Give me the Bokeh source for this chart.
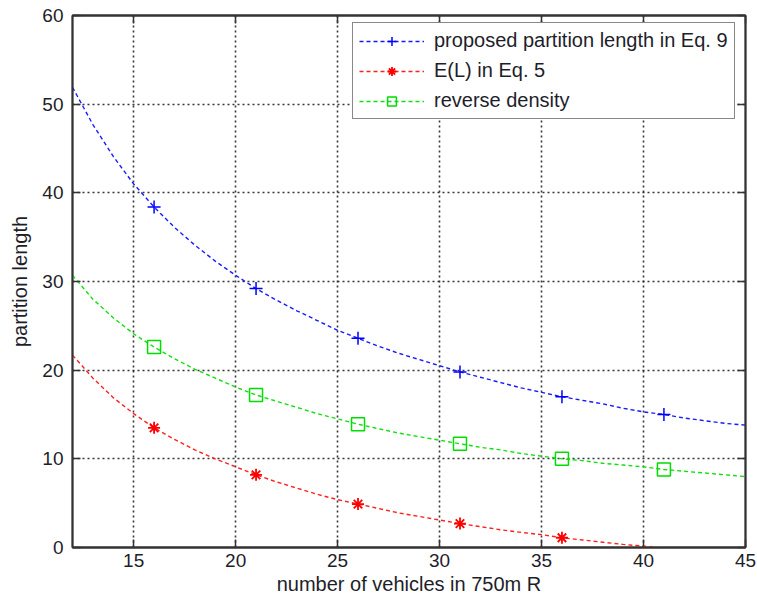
from bokeh.plotting import figure
from bokeh.models import (LinearAxis, Range1d, Legend, LegendItem,
                          CustomJSTickFormatter, FixedTicker)
from bokeh.embed import file_html
from bokeh.resources import INLINE

# ---- data ----
x_vals = list(range(12, 46))
proposed = [51.9, 47.7, 44.1, 41.0, 38.4, 36.1, 34.1, 32.3, 30.7, 29.2,
            27.9, 26.7, 25.6, 24.5, 23.6, 22.7, 21.9, 21.2, 20.5, 19.8,
            19.2, 18.6, 18.0, 17.5, 17.0, 16.6, 16.2, 15.7, 15.3, 15.0,
            14.6, 14.3, 14.0, 13.8]
expected_L = [21.7, 19.1, 16.9, 15.1, 13.5, 12.2, 11.0, 10.0, 9.1, 8.2,
              7.4, 6.7, 6.0, 5.4, 4.9, 4.4, 3.9, 3.5, 3.1, 2.7,
              2.35, 2.0, 1.7, 1.45, 1.1, 0.85, 0.6, 0.35, 0.15, -0.1,
              -0.3, -0.5, -0.7, -0.9]
reverse_density = [30.7, 28.0, 25.9, 24.1, 22.6, 21.3, 20.1, 19.1, 18.1, 17.2,
                   16.5, 15.8, 15.1, 14.5, 13.9, 13.4, 12.9, 12.5, 12.1, 11.7,
                   11.3, 11.0, 10.6, 10.3, 10.0, 9.8, 9.5, 9.3, 9.1, 8.8,
                   8.6, 8.4, 8.2, 8.0]
marker_x = [16, 21, 26, 31, 36, 41]
x_ticks = [15, 20, 25, 30, 35, 40, 45]
y_ticks = [0, 10, 20, 30, 40, 50, 60]
labels = ["proposed partition length in Eq. 9", "E(L) in Eq. 5", "reverse density"]
x_label = "number of vehicles in 750m R"
y_label = "partition length"
Y_MIN, Y_MAX = 0, 60


def marks(series):
    # like MATLAB, markers whose point lies outside the axes are not drawn
    pts = [(m, series[x_vals.index(m)]) for m in marker_x]
    pts = [(m, v) for m, v in pts if Y_MIN <= v <= Y_MAX]
    return [m for m, _ in pts], [v for _, v in pts]


FONT = "Liberation Sans"
TXT = "#1e1e2a"
AX = "#333333"

p = figure(width=757, height=606, x_range=Range1d(12, 45), y_range=Range1d(Y_MIN, Y_MAX),
           output_backend="svg", toolbar_location=None,
           min_border_left=72, min_border_right=12, min_border_top=15,
           min_border_bottom=59, background_fill_color="white",
           border_fill_color="white")
p.outline_line_color = AX
p.outline_line_width = 1.8

for ax in p.xaxis:
    ax.ticker = FixedTicker(ticks=x_ticks)
for ax in p.yaxis:
    ax.ticker = FixedTicker(ticks=y_ticks)


def style_axis(ax):
    ax.axis_line_color = AX
    ax.axis_line_width = 1.8
    ax.major_tick_in = 8
    ax.major_tick_out = 0
    ax.major_tick_line_color = AX
    ax.major_tick_line_width = 1.5
    ax.minor_tick_line_color = None
    ax.major_label_text_font = FONT
    ax.major_label_text_font_size = "19px"
    ax.major_label_text_color = TXT
    ax.axis_label_text_font = FONT
    ax.axis_label_text_font_size = "20px"
    ax.axis_label_text_font_style = "normal"
    ax.axis_label_text_color = TXT


style_axis(p.xaxis[0])
style_axis(p.yaxis[0])
p.xaxis[0].axis_label = x_label
p.yaxis[0].axis_label = y_label
p.xaxis[0].major_label_standoff = 6
p.xaxis[0].axis_label_standoff = 3
p.yaxis[0].major_label_standoff = 9
p.yaxis[0].axis_label_standoff = 8

top = LinearAxis(ticker=FixedTicker(ticks=x_ticks),
                 formatter=CustomJSTickFormatter(code="return ''"))
right = LinearAxis(ticker=FixedTicker(ticks=y_ticks),
                   formatter=CustomJSTickFormatter(code="return ''"))
for ax in (top, right):
    style_axis(ax)
    ax.major_label_standoff = 0
p.add_layout(top, "above")
p.add_layout(right, "right")

for g in (p.xgrid[0], p.ygrid[0]):
    g.grid_line_color = "#222222"
    g.grid_line_dash = "2 3"
    g.grid_line_width = 1.6
    g.grid_line_alpha = 0.9

DASH = "4 3"
bx, by = marks(proposed)
rx, ry = marks(expected_L)
gx, gy = marks(reverse_density)
b_line = p.line(x_vals, proposed, color="#1a1aff", line_dash=DASH, line_width=1.4)
b_mark = p.scatter(bx, by, marker="cross", size=13,
                   line_color="#0000ff", line_width=1.5, fill_color=None)
r_line = p.line(x_vals, expected_L, color="#ff2020", line_dash=DASH, line_width=1.4)
r_mark = p.scatter(rx, ry, marker="asterisk", size=12,
                   line_color="#ff0000", line_width=1.8, fill_color=None)
g_line = p.line(x_vals, reverse_density, color="#10e010", line_dash=DASH, line_width=1.4)
g_mark = p.scatter(gx, gy, marker="square", size=13,
                   line_color="#00dd00", line_width=1.5, fill_color=None)

legend = Legend(items=[
    LegendItem(label=labels[0], renderers=[b_line, b_mark]),
    LegendItem(label=labels[1], renderers=[r_line, r_mark]),
    LegendItem(label=labels[2], renderers=[g_line, g_mark]),
])
legend.location = (280, 428)
legend.border_line_color = "#111111"
legend.border_line_width = 1.5
legend.background_fill_color = "white"
legend.background_fill_alpha = 1.0
legend.label_text_font = FONT
legend.label_text_font_size = "20px"
legend.label_text_color = TXT
legend.glyph_width = 65
legend.glyph_height = 22
legend.spacing = 7
legend.padding = 6
legend.label_standoff = 10
legend.margin = 0
p.add_layout(legend, "center")

open("out.html", "w").write(file_html(p, INLINE))
